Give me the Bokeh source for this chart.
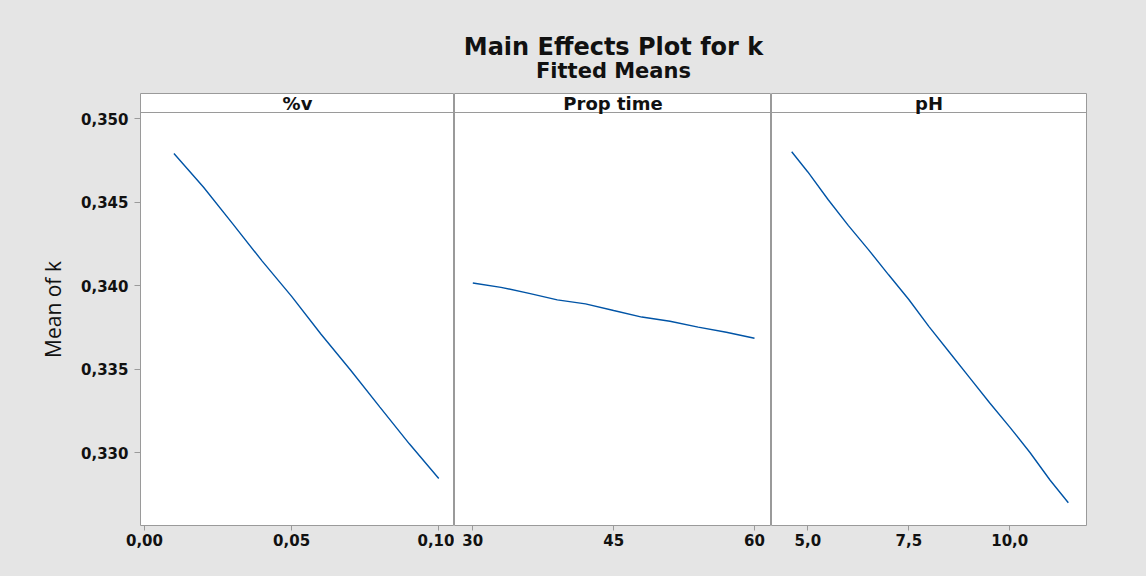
from bokeh.plotting import figure
from bokeh.layouts import row, column
from bokeh.models import Range1d, FixedTicker, Span, Label
from bokeh.embed import file_html
from bokeh.resources import INLINE

# ---- fitted means of k for each factor ----
pct_v = [0.01, 0.02, 0.03, 0.04, 0.05, 0.06, 0.07, 0.08, 0.09, 0.10]
mean_k_pct_v = [0.34790, 0.34590, 0.34369, 0.34146, 0.33935,
                0.33708, 0.33494, 0.33272, 0.33052, 0.32844]

prop_time = [30, 33, 36, 39, 42, 45, 48, 51, 54, 57, 60]
mean_k_prop_time = [0.34015, 0.33989, 0.33953, 0.33914, 0.33890, 0.33850,
                    0.33811, 0.33786, 0.33751, 0.33720, 0.33684]

ph = [4.6, 5.0, 5.5, 6.0, 6.5, 7.0, 7.5, 8.0, 8.5, 9.0, 9.5, 10.0, 10.5, 11.0, 11.45]
mean_k_ph = [0.34801, 0.34680, 0.34515, 0.34360, 0.34215, 0.34064, 0.33916, 0.33754,
             0.33602, 0.33450, 0.33298, 0.33152, 0.33000, 0.32834, 0.32699]

# ---- axis ticks and labels ----
y_ticks = [0.330, 0.335, 0.340, 0.345, 0.350]
y_tick_labels = ["0,330", "0,335", "0,340", "0,345", "0,350"]
pct_v_ticks = [0.0, 0.05, 0.10]
pct_v_tick_labels = ["0,00", "0,05", "0,10"]
prop_time_ticks = [30, 45, 60]
prop_time_tick_labels = ["30", "45", "60"]
ph_ticks = [5.0, 7.5, 10.0]
ph_tick_labels = ["5,0", "7,5", "10,0"]

panel_names = ["%v", "Prop time", "pH"]

# ---- styling ----
GRAY = "#e5e5e5"
FRAME = "#9a9a9a"
LINE = "#0054a6"
FONT = "DejaVu Sans"
INK = "#111111"

Y_LO, Y_DATA_HI, Y_HI = 0.325629, 0.350359, 0.351497   # top band holds the factor name
FRAME_H = 432


def make_panel(xs, ys, x_range, ticks, tick_labels, name, frame_width,
               border_left, border_right, with_y_axis):
    p = figure(frame_width=frame_width, frame_height=FRAME_H,
               min_border_left=border_left, min_border_right=border_right,
               min_border_top=0, min_border_bottom=51,
               x_range=Range1d(*x_range), y_range=Range1d(Y_LO, Y_HI),
               y_axis_location="left" if with_y_axis else None,
               toolbar_location=None, output_backend="svg")
    p.background_fill_color = "white"
    p.border_fill_color = GRAY
    p.outline_line_color = FRAME
    p.outline_line_width = 1
    p.grid.visible = False

    ax = p.xaxis[0]
    ax.ticker = FixedTicker(ticks=ticks, minor_ticks=[])
    ax.major_label_overrides = dict(zip(ticks, tick_labels))
    ax.axis_line_color = None
    ax.major_tick_line_color = FRAME
    ax.major_tick_out = 5
    ax.major_tick_in = 0
    ax.minor_tick_line_color = None
    ax.major_label_standoff = 3
    ax.major_label_text_font = FONT
    ax.major_label_text_font_style = "bold"
    ax.major_label_text_font_size = "15px"
    ax.major_label_text_color = INK

    if with_y_axis:
        ay = p.yaxis[0]
        ay.ticker = FixedTicker(ticks=y_ticks, minor_ticks=[])
        ay.major_label_overrides = dict(zip(y_ticks, y_tick_labels))
        ay.axis_line_color = None
        ay.major_tick_line_color = FRAME
        ay.major_tick_out = 6
        ay.major_tick_in = 0
        ay.minor_tick_line_color = None
        ay.major_label_standoff = 6
        ay.major_label_text_font = FONT
        ay.major_label_text_font_style = "bold"
        ay.major_label_text_font_size = "15px"
        ay.major_label_text_color = INK
        ay.axis_label = "Mean of k"
        ay.axis_label_text_font = "Open Sans"
        ay.axis_label_text_font_style = "normal"
        ay.axis_label_text_font_size = "21px"
        ay.axis_label_text_color = INK
        ay.axis_label_standoff = 11

    # header band with the factor name
    p.add_layout(Span(location=Y_DATA_HI, dimension="width",
                      line_color=FRAME, line_width=1))
    p.add_layout(Label(x=(x_range[0] + x_range[1]) / 2, y=(Y_DATA_HI + Y_HI) / 2,
                       text=name, text_align="center", text_baseline="middle",
                       text_font=FONT, text_font_style="bold",
                       text_font_size="18px", text_color=INK))

    p.line(xs, ys, line_color=LINE, line_width=1.4)
    return p


p1 = make_panel(pct_v, mean_k_pct_v, (-0.00136, 0.10535), pct_v_ticks,
                pct_v_tick_labels, panel_names[0], 314, 140, 0, True)
p2 = make_panel(prop_time, mean_k_prop_time, (28.05, 61.81), prop_time_ticks,
                prop_time_tick_labels, panel_names[1], 317, 0, 0, False)
p3 = make_panel(ph, mean_k_ph, (4.10, 11.90), ph_ticks,
                ph_tick_labels, panel_names[2], 315, 0, 60, False)

# title block
head = figure(width=1146, height=93, x_range=Range1d(0, 1146), y_range=Range1d(0, 93),
              x_axis_location=None, y_axis_location=None, min_border=0,
              toolbar_location=None, output_backend="svg")
head.background_fill_color = GRAY
head.border_fill_color = GRAY
head.outline_line_color = None
head.grid.visible = False
head.add_layout(Label(x=613, y=93 - 46, text="Main Effects Plot for k",
                      text_align="center", text_baseline="alphabetic",
                      text_font=FONT, text_font_style="bold",
                      text_font_size="24px", text_color=INK))
head.add_layout(Label(x=613, y=93 - 70, text="Fitted Means",
                      text_align="center", text_baseline="alphabetic",
                      text_font=FONT, text_font_style="bold",
                      text_font_size="21px", text_color=INK))

layout = column(head, row(p1, p2, p3, spacing=0, styles={"background-color": GRAY}),
                spacing=0, styles={"background-color": GRAY})

open("out.html", "w").write(file_html(layout, INLINE))
